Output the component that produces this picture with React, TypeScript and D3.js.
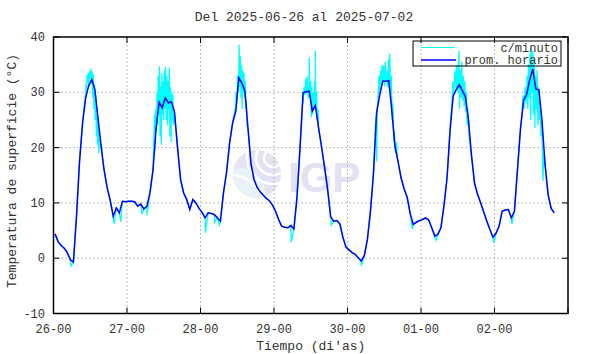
import React from "react";
import * as d3 from "d3";

// ---- data ----
const dayLabels = ["26-00", "27-00", "28-00", "29-00", "30-00", "01-00", "02-00"];
const yTickValues = [-10, 0, 10, 20, 30, 40];
const gridY = [0, 10, 20, 30];

// hourly averages (point k is plotted at hour k + 0.5 from 2025-06-26 00:00)
const day26 = [4.4, 3.0, 2.3, 1.8, 1.0, -0.3, -0.7, 7.5, 17.5, 24.5, 29, 31.2, 32.3, 30.5, 25.5, 20.5, 16, 12.8, 10.5, 7.6, 9.1, 8.2, 10.3, 10.2];
const day27 = [10.3, 10.3, 10.2, 9.4, 9.8, 8.9, 9.4, 11.8, 16, 23.5, 28.2, 27.2, 29, 28.1, 28.3, 26.5, 20, 14.2, 11.8, 10.6, 8.8, 10.6, 10.0, 9.0];
const day28 = [8.3, 7.3, 8.2, 8.1, 7.9, 7.3, 6.7, 11.8, 15.5, 20.8, 24.5, 26.5, 32.6, 31.7, 30.2, 23.5, 17, 14.2, 12.8, 12.0, 11.4, 10.8, 10.4, 9.6];
const day29 = [8.5, 7.0, 5.8, 5.6, 5.5, 5.9, 5.3, 11, 20, 29.9, 30.1, 30.2, 26.6, 27.6, 23.8, 20.2, 16.5, 12.5, 7.5, 6.7, 6.8, 6.2, 3.8, 2.0];
const day30 = [1.5, 1.0, 0.7, 0.1, -0.5, 0.5, 3.4, 8.5, 15.5, 26.3, 29.5, 32, 32, 32.1, 26.5, 20.2, 17.5, 14.5, 12.5, 11.0, 8.0, 6.1, 6.5, 6.8];
const day01 = [7.0, 7.3, 6.9, 5.5, 4.0, 4.3, 5.5, 9.5, 14.5, 23.2, 29.3, 30.5, 31.4, 30.3, 29.2, 25, 18.5, 13.5, 11.5, 10.0, 8.3, 6.7, 5.2, 3.8];
const day02 = [4.5, 5.8, 8.5, 8.7, 8.8, 7.3, 8.5, 16, 23.5, 28.6, 29.6, 32.3, 34.2, 30.6, 30.4, 25, 17, 11.5, 9.0, 8.2];

// per-minute excursions: [hour from start, °C]
const minuteSpikes: [number, number][] = [
  [5.7, -1.4], [19.8, 6.2], [22.0, 6.6], [28.9, 8.0], [30.5, 7.8],
  [10.4, 29.5], [10.6, 31.5], [10.8, 30.5], [11.0, 33.2], [11.2, 31.8], [11.4, 33.5], [11.6, 32], [11.8, 33.8],
  [12.0, 32.5], [12.2, 34.3], [12.4, 31.5], [12.6, 33.8], [12.8, 29], [13.0, 33.2], [13.2, 27], [13.4, 31.5],
  [13.6, 25], [13.8, 29.5], [14.0, 22], [14.2, 27], [14.4, 20.5], [14.6, 24], [14.8, 19], [15.0, 21.5],
  [32.8, 22], [33.0, 26], [33.2, 19.5], [33.4, 27], [33.6, 23], [33.8, 30], [34.0, 24], [34.2, 33], [34.4, 26],
  [34.6, 34.7], [34.8, 22], [35.0, 31], [35.2, 20.5], [35.4, 33.5], [35.6, 26], [35.8, 32], [36.0, 25], [36.2, 34],
  [36.4, 27], [36.6, 34.6], [36.8, 25], [37.0, 33], [37.2, 24], [37.4, 32], [37.6, 27], [37.8, 34.5], [38.0, 22],
  [38.2, 31], [38.4, 21], [38.6, 30], [38.8, 25], [39.0, 29.5], [39.2, 24],
  [49.6, 4.6], [52.6, 6.5], [54.2, 6.0],
  [59.3, 27], [59.6, 30], [59.9, 28], [60.1, 33], [60.4, 30], [60.6, 38.6], [60.8, 31], [61.0, 36.5], [61.2, 29],
  [61.4, 35], [61.6, 27], [61.8, 34], [62.0, 30], [62.2, 33.5], [62.4, 29], [62.6, 32], [62.8, 27], [63.0, 28.5], [63.2, 24],
  [77.6, 2.9],
  [81.5, 28], [81.8, 31], [82.1, 29.5], [82.4, 32.5], [82.7, 30], [82.9, 33], [83.2, 29], [83.5, 36.3], [83.8, 29],
  [84.0, 32], [84.2, 25.5], [84.4, 31], [84.6, 26], [84.8, 30], [85.1, 27], [85.3, 32], [85.5, 37.5], [85.7, 28],
  [85.9, 30], [86.1, 25], [86.4, 27],
  [90.7, 6.0], [100.5, -1.4],
  [105.1, 24], [105.5, 17.5], [105.7, 27], [106.0, 29], [106.3, 33], [106.5, 30], [106.8, 34], [107.0, 31.5],
  [107.3, 35], [107.6, 32], [107.8, 34.8], [108.1, 31], [108.3, 35.5], [108.6, 32], [108.9, 34], [109.1, 31],
  [109.4, 36], [109.6, 30.5], [109.8, 37], [110.1, 29], [110.3, 33], [110.6, 25], [110.8, 28], [111.1, 21],
  [111.3, 23], [111.7, 19], [112.0, 21], [112.3, 18],
  [117.2, 5.3], [124.9, 3.3],
  [129.8, 26], [130.1, 28], [130.4, 32], [130.7, 30], [131.1, 34], [131.4, 31], [131.7, 35], [132.0, 30],
  [132.4, 37.5], [132.6, 27], [132.9, 34], [133.1, 29], [133.3, 35.5], [133.6, 28.5], [133.8, 33], [134.1, 27.5],
  [134.3, 32], [134.6, 26.5], [134.8, 30], [135.1, 24], [135.3, 27], [135.7, 22],
  [143.7, 2.8], [149.7, 6.2],
  [153.0, 26], [153.3, 29.5], [153.6, 27], [154.0, 31], [154.3, 28], [154.6, 33], [154.9, 27], [155.1, 35],
  [155.3, 29], [155.6, 37], [155.8, 25], [156.0, 38], [156.3, 30], [156.5, 37.5], [156.7, 26], [157.0, 35],
  [157.2, 23.5], [157.4, 33], [157.7, 27], [157.9, 34], [158.2, 24], [158.4, 31], [158.7, 25], [158.9, 28],
  [159.2, 22], [159.5, 24], [159.8, 14], [160.2, 19],
];

// ---- layout ----
const W = 590;
const H = 354;
const L = 53.5;
const R = 568;
const T = 37;
const B = 313.5;
const MONO = "'Liberation Mono', 'Courier New', monospace";
const TXT = "#333";

export default function App() {
  const hourlyAvg = [...day26, ...day27, ...day28, ...day29, ...day30, ...day01, ...day02];
  const x = d3.scaleLinear().domain([0, 168]).range([L, R]);
  const y = d3.scaleLinear().domain([-10, 40]).range([B, T]);
  const hourly: [number, number][] = hourlyAvg.map((v, i) => [i + 0.5, v]);
  const minute: [number, number][] = [...hourly, ...minuteSpikes].sort((a, b) => a[0] - b[0]);
  const line = d3
    .line<[number, number]>()
    .x((d) => x(d[0]))
    .y((d) => y(d[1]));
  const dayTicks = d3.range(0, 169, 24);

  const lcx = 257;
  const lcy = 174;
  const lr = 24;

  return (
    <svg
      width={W}
      height={H}
      viewBox={`0 0 ${W} ${H}`}
      style={{ position: "absolute", left: 0, top: 0, background: "#fff" }}
    >
      <rect x={0} y={0} width={W} height={H} fill="#fff" />
      <text x={304} y={21} textAnchor="middle" fontFamily={MONO} fontSize={13} fill={TXT}>
        Del 2025-06-26 al 2025-07-02
      </text>

      {/* watermark */}
      <defs>
        <clipPath id="logoClip">
          <circle cx={lcx} cy={lcy} r={lr} />
        </clipPath>
      </defs>
      <circle cx={lcx} cy={lcy} r={lr} fill="#e3e3f3" />
      <g clipPath="url(#logoClip)">
        <circle cx={lcx - 16} cy={lcy + 18} r={24} fill="#e9f1fb" />
        <circle cx={lcx + 16} cy={lcy - 16} r={9} fill="none" stroke="#fff" strokeWidth={2.5} />
        <circle cx={lcx + 16} cy={lcy - 16} r={17} fill="none" stroke="#fff" strokeWidth={2.5} />
        <circle cx={lcx + 16} cy={lcy - 16} r={26} fill="none" stroke="#fff" strokeWidth={2.5} />
        <circle cx={lcx - 30} cy={lcy + 40} r={40} fill="none" stroke="#fff" strokeWidth={2.5} />
      </g>
      <text
        x={288}
        y={192}
        fontFamily="'Liberation Sans', Arial, sans-serif"
        fontWeight="bold"
        fontSize={42}
        fill="#e2e2f2"
      >
        IGP
      </text>

      {/* grid */}
      <g stroke="#a8a8a8" strokeWidth={1} strokeDasharray="1.5,2.5">
        {dayTicks.slice(1, -1).map((d) => (
          <line key={"gx" + d} x1={x(d)} x2={x(d)} y1={T} y2={B} />
        ))}
        {gridY.map((v) => (
          <line key={"gy" + v} x1={L} x2={R} y1={y(v)} y2={y(v)} />
        ))}
      </g>

      {/* data */}
      <path d={line(minute) ?? ""} fill="none" stroke="#00ffff" strokeWidth={1.3} />
      <path d={line(hourly) ?? ""} fill="none" stroke="#0000ff" strokeWidth={1.5} />

      {/* frame & ticks */}
      <rect x={L} y={T} width={R - L} height={B - T} fill="none" stroke="#000" strokeWidth={1.5} />
      <g stroke="#000" strokeWidth={1}>
        {dayTicks.map((d) => (
          <g key={"tx" + d}>
            <line x1={x(d)} x2={x(d)} y1={B} y2={B - 6} />
            <line x1={x(d)} x2={x(d)} y1={T} y2={T + 6} />
          </g>
        ))}
        {yTickValues.map((v) => (
          <g key={"ty" + v}>
            <line x1={L} x2={L + 6} y1={y(v)} y2={y(v)} />
            <line x1={R} x2={R - 6} y1={y(v)} y2={y(v)} />
          </g>
        ))}
      </g>
      <g fontFamily={MONO} fontSize={12} fill={TXT}>
        {dayLabels.map((lab, i) => (
          <text key={lab} x={x(i * 24)} y={332.5} textAnchor="middle">
            {lab}
          </text>
        ))}
        {yTickValues.map((v) => (
          <text key={"yl" + v} x={45} y={y(v) + 4} textAnchor="end">
            {v}
          </text>
        ))}
      </g>

      <text x={(L + R) / 2} y={350} textAnchor="middle" fontFamily={MONO} fontSize={13} fill={TXT}>
        Tiempo (di'as)
      </text>
      <text
        transform={`translate(16,171) rotate(-90)`}
        textAnchor="middle"
        fontFamily={MONO}
        fontSize={13}
        fill={TXT}
      >
        Temperatura de superficie (°C)
      </text>

      {/* legend */}
      <rect x={413} y={41} width={148} height={25} fill="none" stroke="#000" strokeWidth={1} />
      <line x1={421} x2={455} y1={47.5} y2={47.5} stroke="#00ffff" strokeWidth={1} />
      <line x1={421} x2={456} y1={60} y2={60} stroke="#0000ff" strokeWidth={1.5} />
      <g fontFamily={MONO} fontSize={12} fill={TXT} textAnchor="end">
        <text x={558} y={51.5}>c/minuto</text>
        <text x={558} y={64}>prom. horario</text>
      </g>
    </svg>
  );
}
